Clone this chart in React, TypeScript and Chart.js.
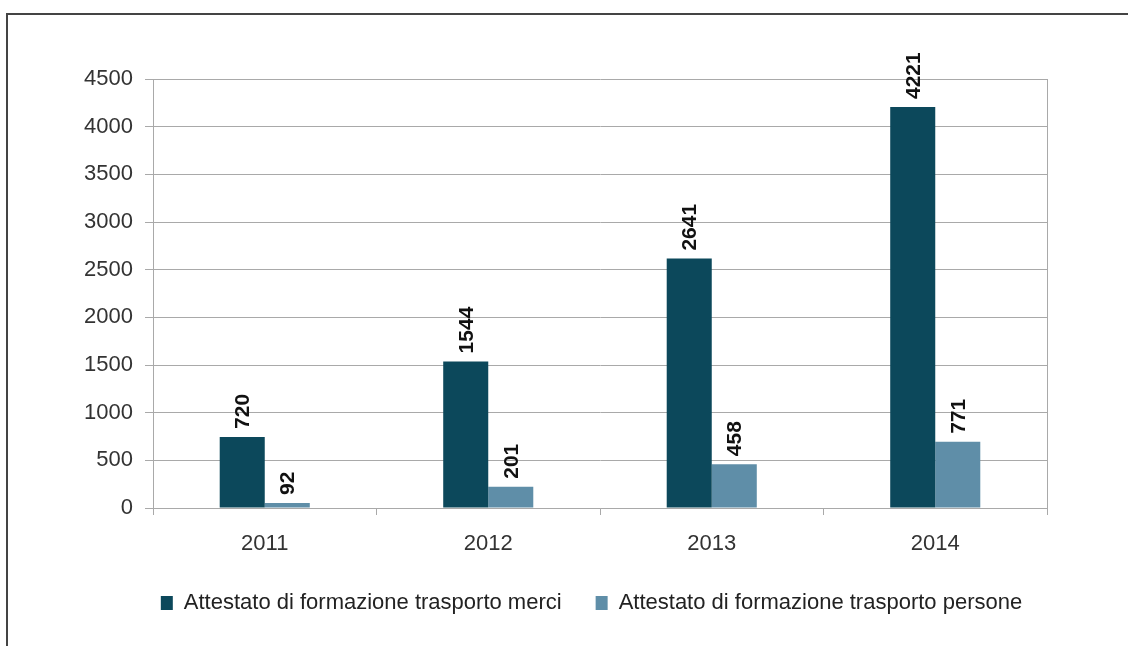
import React, { useEffect, useRef } from "react";
import { Chart, registerables } from "chart.js";

Chart.register(...registerables);

const categories = ["2011", "2012", "2013", "2014"];
const seriesNames = [
  "Attestato di formazione trasporto merci",
  "Attestato di formazione trasporto persone",
];
// bar heights as drawn in the picture
const merciBars = [745, 1538, 2616, 4206];
const personeBars = [52, 223, 460, 694];
// value labels printed above the bars
const merciLabels = ["720", "1544", "2641", "4221"];
const personeLabels = ["92", "201", "458", "771"];
const yMin = 0;
const yMax = 4500;
const yStep = 500;

const FONT = "'Liberation Sans', Arial, sans-serif";
const GRID = "#a9a9a9";

const valueLabelPlugin = {
  id: "valueLabels",
  afterDatasetsDraw(chart: any) {
    const ctx = chart.ctx;
    const all = [merciLabels, personeLabels];
    chart.data.datasets.forEach((_ds: any, i: number) => {
      const meta = chart.getDatasetMeta(i);
      meta.data.forEach((bar: any, j: number) => {
        ctx.save();
        ctx.translate(bar.x, bar.y - 8);
        ctx.rotate(-Math.PI / 2);
        ctx.font = `bold 21px ${FONT}`;
        ctx.fillStyle = "#111";
        ctx.textAlign = "left";
        ctx.textBaseline = "middle";
        ctx.fillText(all[i][j], 0, 1);
        ctx.restore();
      });
    });
  },
};

export default function App() {
  const ref = useRef<HTMLCanvasElement | null>(null);
  useEffect(() => {
    if (!ref.current) return;
    const chart = new Chart(ref.current, {
      type: "bar",
      data: {
        labels: categories,
        datasets: [
          {
            label: seriesNames[0],
            data: merciBars,
            backgroundColor: "#0c485b",
            categoryPercentage: 0.403,
            barPercentage: 1.0,
          },
          {
            label: seriesNames[1],
            data: personeBars,
            backgroundColor: "#5f8ea8",
            categoryPercentage: 0.403,
            barPercentage: 1.0,
          },
        ],
      },
      options: {
        responsive: false,
        animation: false,
        devicePixelRatio: 1,
        layout: { padding: { left: 80, right: 25, top: 79, bottom: 22 } },
        plugins: {
          legend: {
            position: "bottom",
            labels: {
              boxWidth: 12,
              boxHeight: 14,
              padding: 34,
              color: "#222",
              font: { family: FONT, size: 22 },
            },
          },
          tooltip: { enabled: false },
        },
        scales: {
          x: {
            afterFit: (s: any) => {
              s.height = 50;
            },
            grid: {
              offset: true,
              drawOnChartArea: true,
              color: (c: any) => (c.type === "tick" ? "rgba(0,0,0,0)" : GRID),
              tickColor: GRID,
              tickLength: 7,
            },
            border: { display: true, color: GRID },
            ticks: {
              color: "#333",
              padding: 16,
              font: { family: FONT, size: 22 },
            },
          },
          y: {
            min: yMin,
            max: yMax,
            afterFit: (s: any) => {
              s.width = 73;
            },
            grid: { color: GRID, tickColor: GRID, tickLength: 8 },
            border: { display: true, color: GRID },
            ticks: {
              stepSize: yStep,
              autoSkip: false,
              color: "#333",
              padding: 12,
              font: { family: FONT, size: 22 },
              callback: (v: any) => String(v),
            },
          },
          spacer: {
            position: "right",
            display: true,
            afterFit: (s: any) => {
              s.width = 56;
            },
            grid: { display: false, drawTicks: false },
            border: { display: false },
            ticks: { display: false },
          },
        },
      },
      plugins: [valueLabelPlugin],
    });
    return () => chart.destroy();
  }, []);

  return (
    <div style={{ position: "absolute", left: 0, top: 0, width: 1128, height: 646, overflow: "hidden", background: "#fff" }}>
      <canvas ref={ref} width={1128} height={646} style={{ display: "block", position: "absolute", left: 0, top: 0 }} />
      <div
        style={{
          position: "absolute",
          left: 6,
          top: 13,
          width: 1140,
          height: 660,
          border: "2px solid #444",
          boxSizing: "border-box",
          pointerEvents: "none",
        }}
      />
    </div>
  );
}
